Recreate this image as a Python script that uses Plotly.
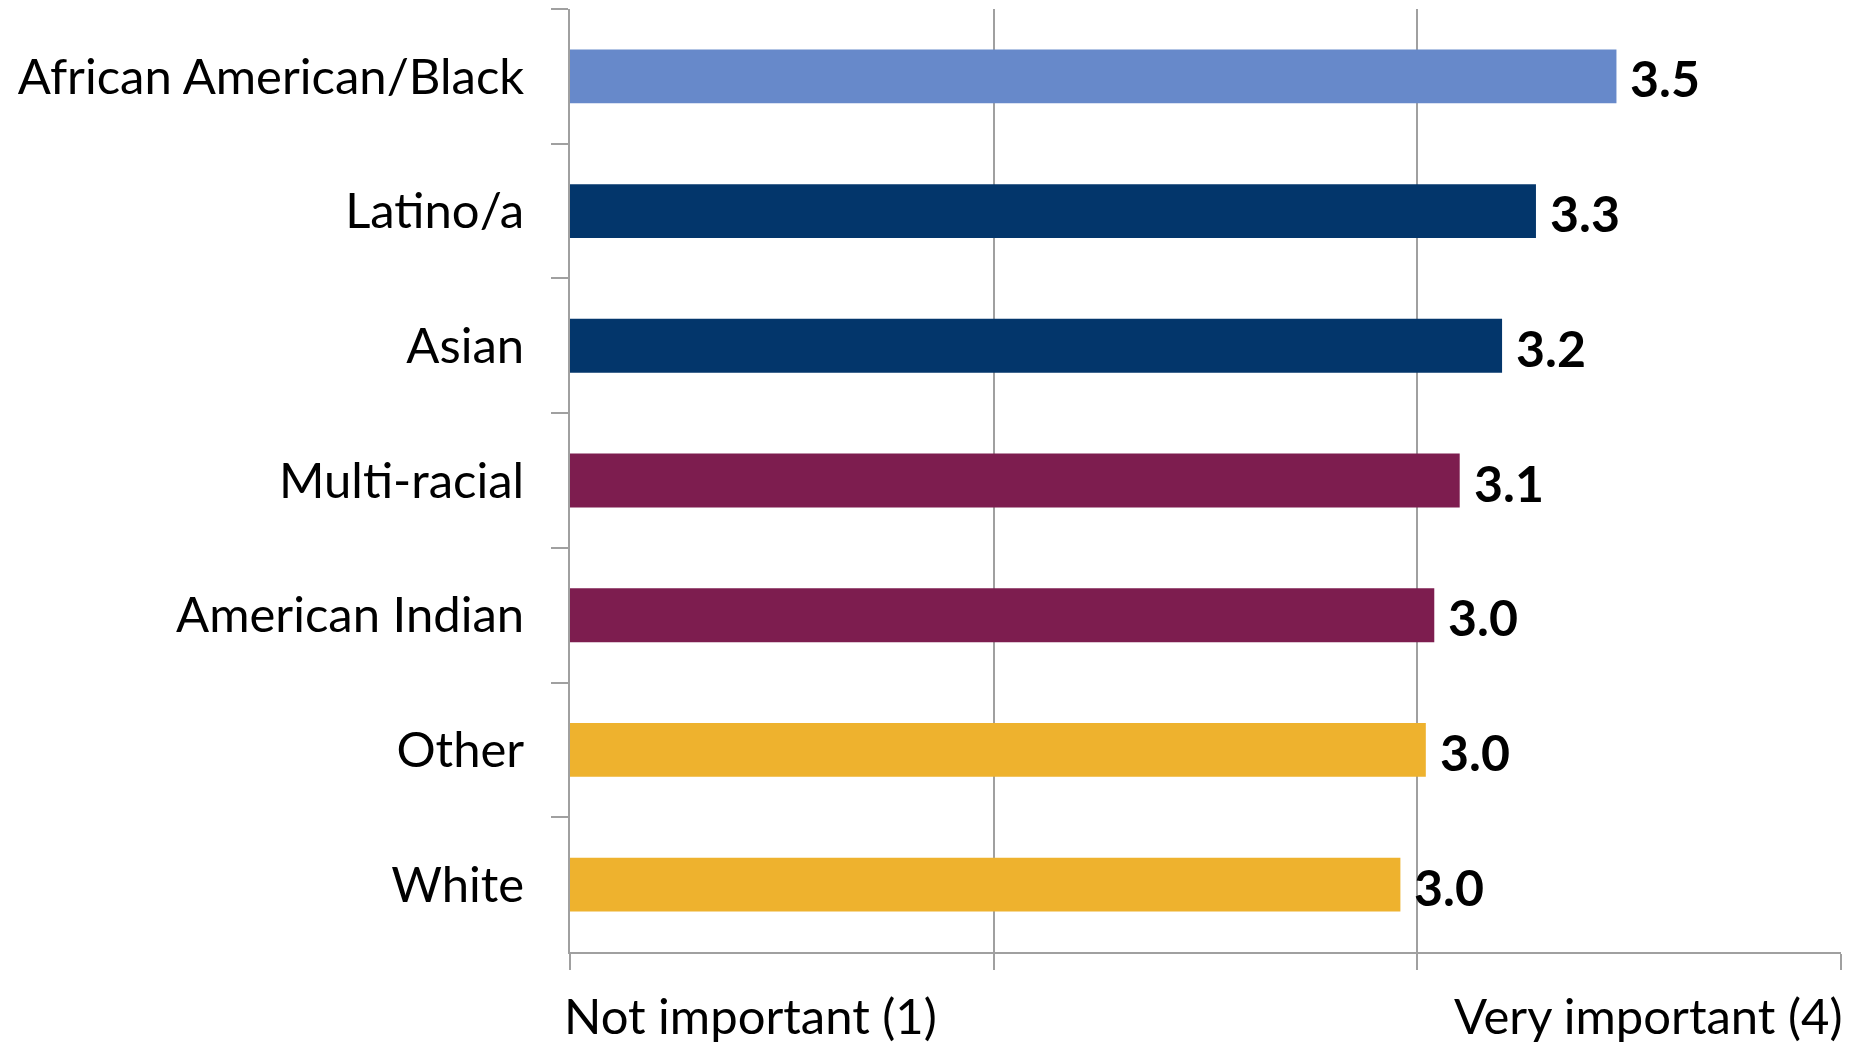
import plotly.graph_objects as go

# categories listed top to bottom
groups = ['African American/Black', 'Latino/a', 'Asian', 'Multi-racial',
          'American Indian', 'Other', 'White']
scores = [3.47, 3.28, 3.20, 3.10, 3.04, 3.02, 2.96]
bar_colors = ['#6789CA', '#03366B', '#03366B', '#7D1D4F', '#7D1D4F',
              '#EEB22E', '#EEB22E']
end_labels = ['Not important (1)', 'Very important (4)']
end_values = [1, 4]

FONT = 'Lato'
GRID = '#A0A0A0'

fig = go.Figure(
    data=[
        go.Bar(
            y=groups,
            x=[s - 1 for s in scores],
            base=1,
            orientation='h',
            marker=dict(color=bar_colors, line=dict(width=0)),
            width=0.4,
            hoverinfo='skip',
        )
    ]
)

# value labels to the right of each bar
for g, s in zip(groups, scores):
    fig.add_annotation(
        x=s, y=g, text='<b>%.1f</b>' % s, showarrow=False,
        xanchor='left', yanchor='middle', xshift=12, yshift=-2,
        font=dict(family=FONT, size=50, color='black'),
    )

# end labels under the x axis
for txt, v, anc in zip(end_labels, end_values, ['left', 'right']):
    fig.add_annotation(
        x=v, y=0, xref='x', yref='paper', text=txt, showarrow=False,
        xanchor=anc, yanchor='top', xshift=-8 if anc == 'left' else 4,
        yshift=-32,
        font=dict(family=FONT, size=49, color='black'),
    )

# page body adds an 8px margin, so the figure is a bit smaller than the window
fig.update_layout(
    width=1852, height=1034,
    margin=dict(l=562, r=19, t=1, b=90),
    paper_bgcolor='white', plot_bgcolor='white',
    showlegend=False,
    bargap=0.6,
    font=dict(family=FONT, size=49, color='black'),
    xaxis=dict(
        range=[1, 4],
        tickvals=[1, 2, 3, 4],
        showticklabels=False,
        ticks='outside', ticklen=16, tickwidth=2, tickcolor=GRID,
        showgrid=True, gridcolor=GRID, gridwidth=2,
        showline=True, linecolor=GRID, linewidth=2,
        zeroline=False, fixedrange=True,
    ),
    yaxis=dict(
        autorange='reversed',
        type='category',
        tickson='boundaries',
        ticks='outside', ticklen=17, tickwidth=2, tickcolor=GRID,
        showgrid=False,
        showline=True, linecolor=GRID, linewidth=2,
        ticklabelstandoff=34,
        tickfont=dict(family=FONT, size=49, color='black'),
        fixedrange=True,
    ),
)

fig.write_html("out.html")
